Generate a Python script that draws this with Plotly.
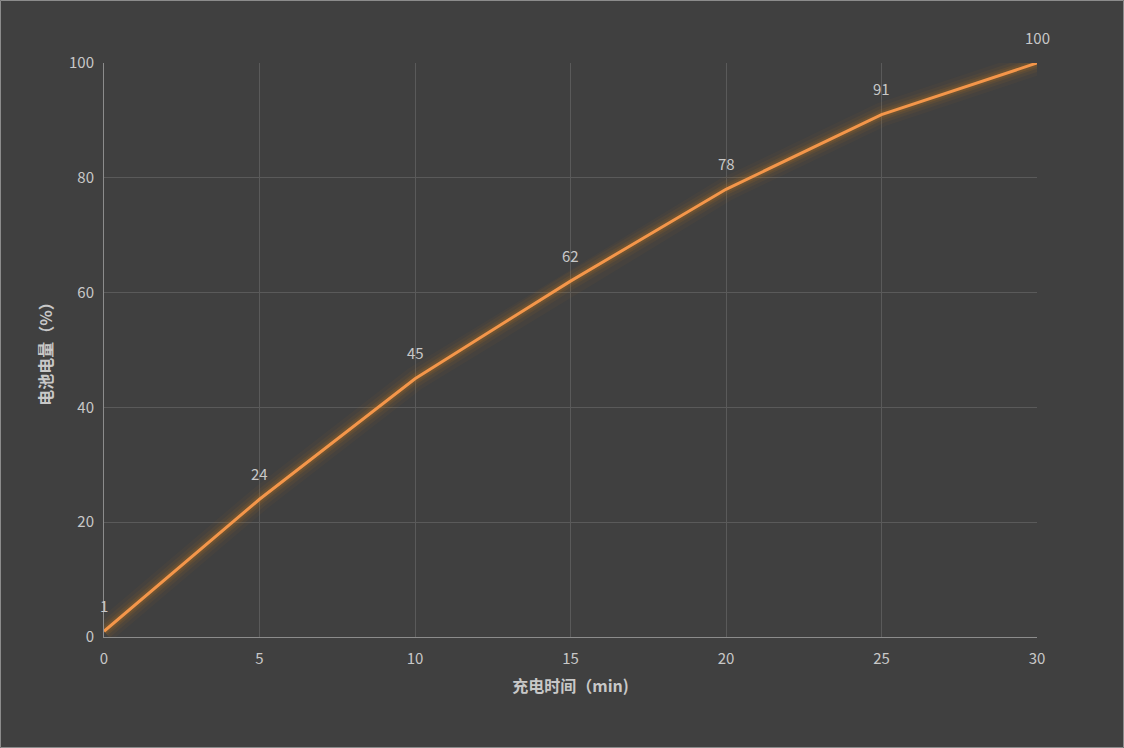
import plotly.graph_objects as go

time_min = [0, 5, 10, 15, 20, 25, 30]
battery_pct = [1, 24, 45, 62, 78, 91, 100]
x_ticks = [0, 5, 10, 15, 20, 25, 30]
y_ticks = [0, 20, 40, 60, 80, 100]

BG = "#404040"
FONT = "Noto Sans CJK SC, Open Sans, sans-serif"
TXT = "#c8c8c8"

fig = go.Figure()

# glow layers
for w, op in [(24, 0.05), (17, 0.08), (11, 0.12), (7, 0.18)]:
    fig.add_trace(go.Scatter(
        x=time_min, y=battery_pct, mode="lines",
        line=dict(color="#b8741e", width=w), opacity=op,
        hoverinfo="skip", showlegend=False, cliponaxis=False))

fig.add_trace(go.Scatter(
    x=time_min, y=battery_pct, mode="lines",
    line=dict(color="#f4964a", width=3),
    showlegend=False, cliponaxis=False))

for xv, yv in zip(time_min, battery_pct):
    fig.add_annotation(x=xv, y=yv, text=str(yv), showarrow=False,
                       yshift=26, font=dict(family=FONT, size=15, color=TXT))

fig.update_layout(
    width=1124, height=748,
    paper_bgcolor=BG, plot_bgcolor=BG,
    margin=dict(l=104, r=87, t=63, b=111),
    font=dict(family=FONT, size=15, color=TXT),
    xaxis=dict(
        range=[0, 30], tickvals=x_ticks, showgrid=True,
        gridcolor="#5a5a5a", gridwidth=1, zeroline=False,
        showline=True, linecolor="#8c8c8c", linewidth=1,
        ticks="", tickfont=dict(size=15, color=TXT), ticklabelstandoff=8,
        title=dict(text="<b>充电时间（min)</b>", font=dict(size=16, color=TXT), standoff=13),
    ),
    yaxis=dict(
        range=[0, 100], tickvals=y_ticks, showgrid=True,
        gridcolor="#5a5a5a", gridwidth=1, zeroline=False,
        showline=True, linecolor="#8c8c8c", linewidth=1,
        ticks="", tickfont=dict(size=15, color=TXT), ticklabelstandoff=6,
        title=dict(text="<b>电池电量（%）</b>", font=dict(size=16, color=TXT), standoff=12),
    ),
)

# outer frame of the image
fig.add_shape(type="rect", xref="paper", yref="paper",
              x0=-103.5/933, x1=1 + 86.5/933, y0=-110.5/574, y1=1 + 62.5/574,
              line=dict(color="#8c8c8c", width=1), layer="below")

fig.write_html("out.html", config={"displayModeBar": False},
               post_script="document.body.style.margin='0';document.body.style.background='#404040';document.body.style.overflow='hidden';")
